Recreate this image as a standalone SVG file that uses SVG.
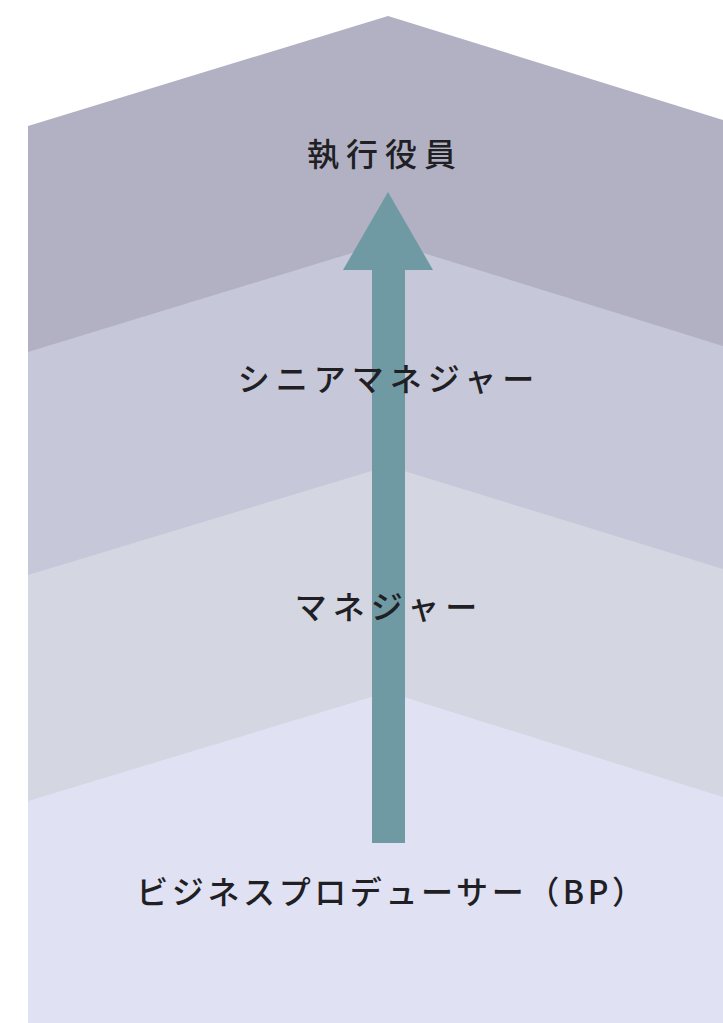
<svg xmlns="http://www.w3.org/2000/svg" width="723" height="1023" viewBox="0 0 723 1023">
<style>
.lbl{font-family:"Noto Sans CJK JP","Noto Sans CJK SC",sans-serif;font-size:32px;fill:#1f1f24;text-anchor:middle;font-weight:500}
</style>
<rect width="723" height="1023" fill="#ffffff"/>
<g id="bands">
<polygon points="28,126 388,16 723,120 723,1023 28,1023" fill="#b1b1c3"/>
<polygon points="28,352 388,242 723,346 723,1023 28,1023" fill="#c6c7d9"/>
<polygon points="28,575 388,466 723,569 723,1023 28,1023" fill="#d4d6e2"/>
<polygon points="28,801 388,692 723,797 723,1023 28,1023" fill="#e0e1f3"/>
</g>
<g id="connectors">
<polygon points="372,843 405,843 405,270 433,270 388,192 343,270 372,270" fill="#6f9aa4"/>
</g>
<g id="executive"><text class="lbl" x="385" y="166" style="letter-spacing:7px">執行役員</text></g>
<g id="senior-manager"><text class="lbl" x="389" y="391" style="letter-spacing:6px">シニアマネジャー</text></g>
<g id="manager"><text class="lbl" x="389" y="619" style="letter-spacing:6px">マネジャー</text></g>
<g id="business-producer"><text class="lbl" x="392" y="904" style="letter-spacing:3.6px">ビジネスプロデューサー（BP）</text></g>
</svg>
